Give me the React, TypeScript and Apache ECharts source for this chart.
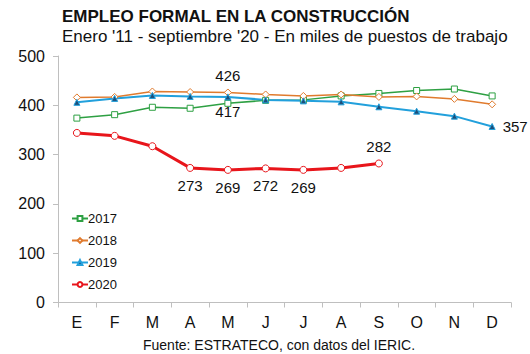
import React, { useEffect, useRef } from "react";
import * as echarts from "echarts";

const months = ["E", "F", "M", "A", "M", "J", "J", "A", "S", "O", "N", "D"];
const s2017 = [374, 381, 396, 394, 404, 410, 411, 419, 424, 430, 433, 419];
const s2018 = [416, 417, 428, 427, 426, 422, 419, 422, 417, 418, 413, 402];
const s2019 = [406, 414, 420, 418, 417, 411, 409, 407, 397, 388, 378, 357];
const s2020 = [344, 338, 317, 273, 269, 272, 269, 273, 282];
const yTicks = [0, 100, 200, 300, 400, 500];

const FONT = "'Liberation Sans', Arial, sans-serif";

export default function App() {
  const ref = useRef<HTMLDivElement>(null);
  useEffect(() => {
    if (!ref.current) return;
    const chart = echarts.init(ref.current, null, { renderer: "svg" });
    const lbl = (pos: string, dist = 6) => ({
      show: true,
      position: pos,
      distance: dist,
      fontSize: 15,
      color: "#111",
      fontFamily: FONT,
    });
    const d2018 = s2018.map((v, i) => (i === 4 ? { value: v, label: lbl("top", 5) } : v));
    const d2019 = s2019.map((v, i) =>
      i === 4 ? { value: v, label: lbl("bottom", 4) } : i === 11 ? { value: v, label: lbl("right", 7) } : v
    );
    const d2020 = s2020.map((v, i) =>
      i >= 3 && i <= 6 ? { value: v, label: lbl("bottom", 6) } : i === 8 ? { value: v, label: lbl("top", 5) } : v
    );
    chart.setOption({
      animation: false,
      backgroundColor: "#fff",
      textStyle: { fontFamily: FONT },
      title: [
        {
          text: "EMPLEO FORMAL EN LA CONSTRUCCIÓN",
          left: 62,
          top: 8,
          padding: 0,
          textStyle: { fontSize: 17, fontWeight: "bold", color: "#111", fontFamily: FONT },
        },
        {
          text: "Enero '11 - septiembre '20 - En miles de puestos de trabajo",
          left: 62,
          top: 28,
          padding: 0,
          textStyle: { fontSize: 17, fontWeight: "normal", color: "#111", fontFamily: FONT },
        },
        {
          text: "Fuente: ESTRATECO, con datos del IERIC.",
          left: 143,
          top: 338,
          padding: 0,
          textStyle: { fontSize: 14, fontWeight: "normal", color: "#111", fontFamily: FONT },
        },
      ],
      legend: {
        orient: "vertical",
        left: 66,
        top: 207,
        itemGap: 9,
        itemWidth: 16,
        itemHeight: 6,
        textStyle: { fontSize: 13, color: "#111", fontFamily: FONT, padding: [0, 0, 0, -5] },
        data: ["2017", "2018", "2019", "2020"],
      },
      grid: { left: 58, right: 19, top: 56, bottom: 51.5, containLabel: false },
      xAxis: {
        type: "category",
        data: months,
        boundaryGap: true,
        axisLine: { lineStyle: { color: "#bfbfbf" } },
        axisTick: { show: true, length: 5, lineStyle: { color: "#bfbfbf" } },
        axisLabel: { fontSize: 16, color: "#111", margin: 12, fontFamily: FONT },
      },
      yAxis: {
        type: "value",
        min: 0,
        max: 500,
        interval: 100,
        axisLine: { show: true, lineStyle: { color: "#bfbfbf" } },
        axisTick: { show: true, length: 5, lineStyle: { color: "#bfbfbf" } },
        splitLine: { show: false },
        axisLabel: {
          fontSize: 16,
          color: "#111",
          margin: 13,
          fontFamily: FONT,
          customValues: yTicks,
        },
      },
      series: [
        {
          name: "2017",
          type: "line",
          data: s2017,
          symbol: "rect",
          symbolSize: 6,
          itemStyle: { color: "#fff", borderColor: "#2ea043", borderWidth: 1 },
          lineStyle: { color: "#2ea043", width: 1.5 },
        },
        {
          name: "2018",
          type: "line",
          data: d2018,
          symbol: "diamond",
          symbolSize: 7,
          itemStyle: { color: "#fff", borderColor: "#e07b2e", borderWidth: 1 },
          lineStyle: { color: "#e07b2e", width: 1.5 },
        },
        {
          name: "2019",
          type: "line",
          data: d2019,
          symbol: "triangle",
          symbolSize: 6,
          itemStyle: { color: "#1f4e79", borderColor: "#22a0dc", borderWidth: 1 },
          lineStyle: { color: "#22a0dc", width: 2 },
        },
        {
          name: "2020",
          type: "line",
          data: d2020,
          symbol: "circle",
          symbolSize: 7,
          itemStyle: { color: "#fff", borderColor: "#e8151b", borderWidth: 1 },
          lineStyle: { color: "#e8151b", width: 3 },
        },
      ],
    });
    return () => chart.dispose();
  }, []);
  return <div ref={ref} style={{ width: 530, height: 354, position: "absolute", left: 0, top: 0 }} />;
}
